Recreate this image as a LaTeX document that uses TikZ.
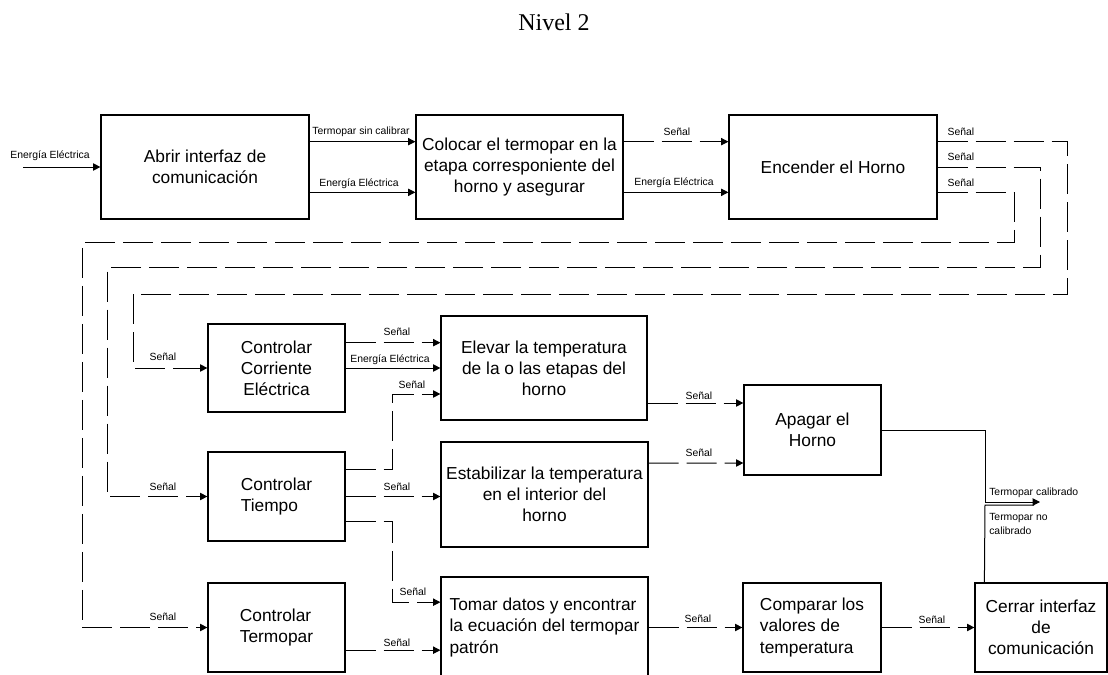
\documentclass[tikz,border=0pt]{standalone}
\usepackage{fontspec}
\setmainfont{Liberation Sans}
\newfontfamily\titlefont{Liberation Serif}
\usetikzlibrary{arrows.meta}

\begin{document}
\begin{tikzpicture}[x=0.75pt,y=-0.75pt,
  box/.style={draw, line width=0.9pt, inner sep=2pt,
    font=\fontsize{13}{15.8}\selectfont, align=center},
  bw/.style 2 args={minimum width=#1*0.75pt, minimum height=#2*0.75pt},
  lbl/.style={font=\fontsize{7.8}{10.5}\selectfont, inner sep=0pt},
  flow/.style={line width=0.75pt, -{Triangle[length=5.5pt,width=5.5pt]}},
  sig/.style={flow, dash pattern=on 22.5pt off 6pt},
  plain/.style={line width=0.75pt}
]
\clip (0,0) rectangle (1108,675);

% title
\node[font=\titlefont\fontsize{18}{21}\selectfont] (title) at (554,22) {Nivel 2};

% process boxes
\node[box, bw={208}{104}] (A) at (205,167) {Abrir interfaz de\\comunicación};
\node[box, bw={207}{104}] (B) at (519.5,167) {Colocar el termopar en la\\etapa corresponiente del\\horno y asegurar};
\node[box, bw={208}{104}] (C) at (833,167) {Encender el Horno};
\node[box, bw={137}{88}] (D) at (276.5,368) {Controlar\\Corriente\\Eléctrica};
\node[box, bw={206}{104}] (E) at (544,368) {Elevar la temperatura\\de la o las etapas del\\horno};
\node[box, bw={137}{90}] (F) at (812.5,430) {Apagar el\\Horno};
\node[box, bw={137}{89}, align=left] (G) at (276.5,496.5) {Controlar\\Tiempo};
\node[box, bw={207}{105}] (H) at (544.5,494.5) {Estabilizar la temperatura\\en el interior del\\horno};
\node[box, bw={137}{89}, align=left] (I) at (276.5,627.5) {Controlar\\Termopar};
\node[box, bw={207}{101}, align=left] (J) at (544.5,627.5) {Tomar datos y encontrar\\la ecuación del termopar\\patrón};
\node[box, bw={138}{89}, align=left] (K) at (812,627.5) {Comparar los\\valores de\\temperatura};
\node[box, bw={132}{89}] (L) at (1041,627.5) {Cerrar interfaz\\de\\comunicación};

% free ends
\coordinate (in1) at (23,167);
\coordinate (tc) at (1040,502);
\coordinate (tn) at (1034,505);

% top row
\draw[flow] (in1) -- (A.west);
\draw[flow] ([yshift=19pt]A.east) -- ([yshift=19pt]B.west);
\draw[flow] ([yshift=-19pt]A.east) -- ([yshift=-19pt]B.west);
\draw[sig] ([yshift=19pt]B.east) -- ([yshift=19pt]C.west);
\draw[flow] ([yshift=-19pt]B.east) -- ([yshift=-19pt]C.west);

% feedback loops from the oven
\draw[sig] ([yshift=19pt]C.east) -| (1067,294) -- (133,294) |- (D.west);
\draw[sig] (C.east) -| (1040,267.7) -- (107,267.7) |- (G.west);
\draw[sig] ([yshift=-19pt]C.east) -| (1014,242.7) -- (82,242.7) |- (I.west);

% control signals
\draw[sig] ([yshift=19pt]D.east) -- ([yshift=19pt]E.west);
\draw[flow] (D.east) -- (E.west);
\draw[sig] ([yshift=20pt]G.east) -- ++(47,0) |- ([yshift=-19.5pt]E.west);
\draw[sig] (G.east) -- (G.east -| H.west);
\draw[sig] ([yshift=-19pt]G.east) -- ++(47,0) |- ([yshift=19pt]J.west);
\draw[sig] ([yshift=-17pt]I.east) -- ([yshift=-17pt]J.west);

% towards shutdown and comparison
\draw[sig] ([yshift=-26.25pt]E.east) -- ([yshift=20.25pt]F.west);
\draw[sig] ([yshift=23.6pt]H.east) -- ([yshift=-24.75pt]F.west);
\draw[sig] (J.east) -- (K.west);
\draw[sig] (K.east) -- (L.west);

% outputs
\draw[flow] (F.east) -| (985,502) -- (tc);
\draw[plain] ([xshift=7.5pt]L.north west) -- (985,505) -- (tn);

% labels
\node[lbl] (l1) at (50,156) {Energía Eléctrica};
\node[lbl] (l2) at (361,132) {Termopar sin calibrar};
\node[lbl] (l3) at (359,184) {Energía Eléctrica};
\node[lbl] (l4) at (677,132) {Señal};
\node[lbl] (l5) at (674,183) {Energía Eléctrica};
\node[lbl] (l6) at (961,132) {Señal};
\node[lbl] (l7) at (961,157) {Señal};
\node[lbl] (l8) at (961,183) {Señal};
\node[lbl] (l9) at (163,357) {Señal};
\node[lbl] (l10) at (163,487) {Señal};
\node[lbl] (l11) at (163,617) {Señal};
\node[lbl] (l12) at (397,332) {Señal};
\node[lbl] (l13) at (390,360) {Energía Eléctrica};
\node[lbl] (l14) at (412,385) {Señal};
\node[lbl] (l15) at (397,487) {Señal};
\node[lbl] (l16) at (413,592) {Señal};
\node[lbl] (l17) at (397,643) {Señal};
\node[lbl] (l18) at (699,396) {Señal};
\node[lbl] (l19) at (699,453) {Señal};
\node[lbl] (l20) at (698,619) {Señal};
\node[lbl] (l21) at (932,620) {Señal};
\node[lbl, anchor=west] (l22) at (989,493) {Termopar calibrado};
\node[lbl, anchor=west, align=left] (l23) at (989,524) {Termopar no\\calibrado};
\end{tikzpicture}
\end{document}
